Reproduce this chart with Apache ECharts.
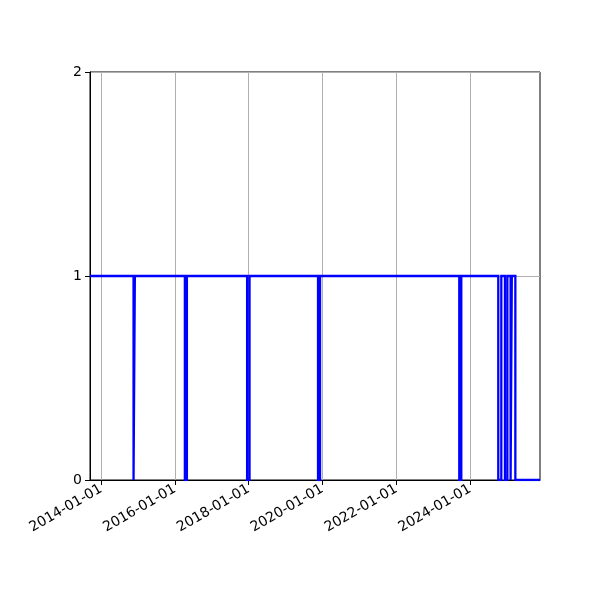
<!DOCTYPE html>
<html lang="en">
<head>
    <meta charset="UTF-8">
    <title>Step chart</title>
    <style>
        html, body { margin: 0; padding: 0; background: #fff; }
        #chart { width: 600px; height: 600px; }
    </style>
</head>
<body>
<div id="chart"></div>
<script src="https://cdn.jsdelivr.net/npm/echarts@6/dist/echarts.min.js"></script>
<script>
    // change points of the step line (value holds until the next date)
    let stepDates = [
        '2013-09-13', '2014-11-18', '2014-12-01', '2016-04-09', '2016-04-29',
        '2017-12-16', '2018-01-09', '2019-11-18', '2019-12-08', '2023-09-16',
        '2023-10-06', '2024-10-06', '2024-11-05', '2024-12-11', '2025-01-04',
        '2025-02-05', '2025-02-17', '2025-03-24', '2025-11-23'
    ];
    let stepValues = [1, 0, 1, 0, 1, 0, 1, 0, 1, 0, 1, 0, 1, 0, 1, 0, 1, 0, 0];

    let xTicks = ['2014-01-01', '2016-01-01', '2018-01-01', '2020-01-01', '2022-01-01', '2024-01-01'];

    let toTime = function (s) { return new Date(s + 'T00:00:00Z').getTime(); };
    let tickTimes = xTicks.map(toTime);
    let seriesData = stepDates.map(function (d, i) { return [toTime(d), stepValues[i]]; });

    let pad = function (n) { return n < 10 ? '0' + n : '' + n; };
    let fmtDate = function (v) {
        let d = new Date(v);
        return d.getUTCFullYear() + '-' + pad(d.getUTCMonth() + 1) + '-' + pad(d.getUTCDate());
    };

    let dom = document.getElementById('chart');
    let myChart = echarts.init(dom, null, {renderer: 'canvas'});
    myChart.setOption({
        animation: false,
        textStyle: {fontFamily: 'DejaVu Sans'},
        grid: {
            left: 90, right: 60, top: 72, bottom: 120,
            show: true, borderColor: '#000', borderWidth: 1, backgroundColor: 'transparent'
        },
        xAxis: {
            type: 'value',
            min: seriesData[0][0],
            max: seriesData[seriesData.length - 1][0],
            axisLine: {show: true, lineStyle: {color: '#000', width: 1}},
            axisTick: {show: true, inside: false, length: 5, lineStyle: {color: '#000'}, customValues: tickTimes},
            axisLabel: {
                customValues: tickTimes,
                rotate: 30,
                color: '#000',
                fontSize: 14,
                margin: 8,
                formatter: function (v) { return fmtDate(v); }
            },
            splitLine: {show: false}
        },
        yAxis: {
            type: 'value',
            min: 0, max: 2, interval: 1,
            axisLine: {show: true, lineStyle: {color: '#000', width: 1}},
            axisTick: {show: true, inside: false, length: 5, lineStyle: {color: '#000'}},
            axisLabel: {color: '#000', fontSize: 14, margin: 8},
            splitLine: {show: true, lineStyle: {color: '#b0b0b0', width: 1}}
        },
        series: [
            {
                type: 'line',
                step: 'end',
                data: seriesData,
                showSymbol: false,
                lineStyle: {color: '#0000ff', width: 2.3, join: 'miter'},
                markLine: {
                    silent: true,
                    symbol: 'none',
                    label: {show: false},
                    lineStyle: {color: '#b0b0b0', width: 1, type: 'solid'},
                    data: tickTimes.map(function (t) { return {xAxis: t}; }),
                    z: 1
                },
                z: 3
            }
        ]
    });
</script>
</body>
</html>
